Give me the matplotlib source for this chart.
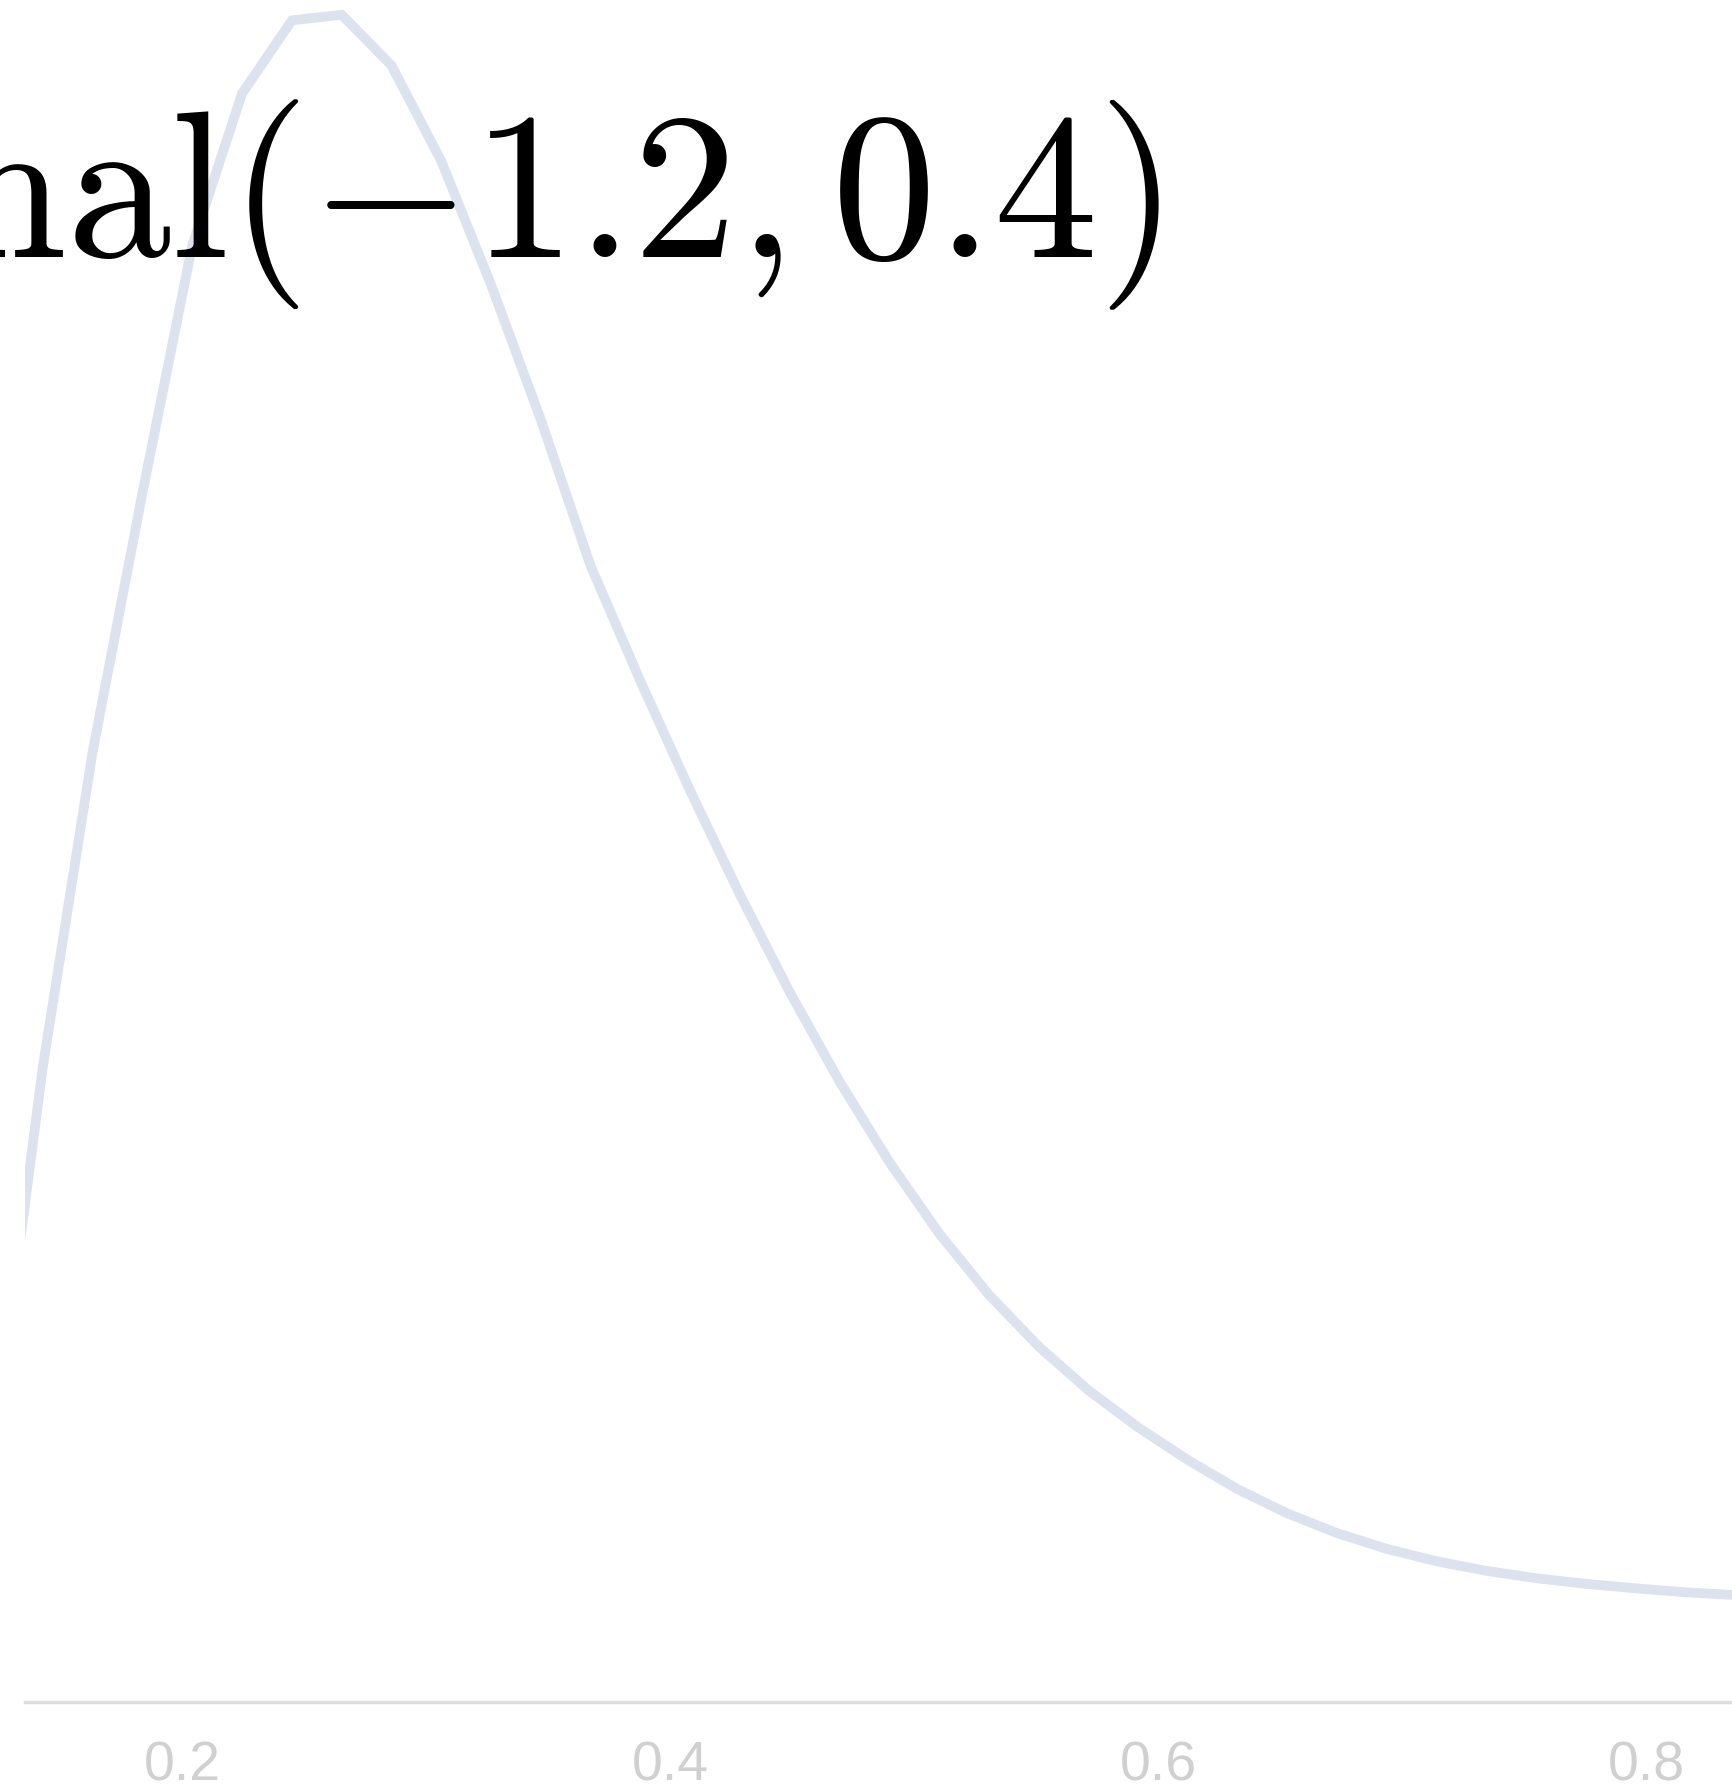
import matplotlib
matplotlib.use("Agg")
import matplotlib.pyplot as plt

plt.rcParams["mathtext.fontset"] = "cm"

# curve sampled on a 50-point grid over [0, 1]; only the visible part (i = 6..41)
grid_index = list(range(6, 42))
density = [
    0.45, 1.13, 1.69, 2.15, 2.59, 2.86, 2.99, 3.00, 2.91, 2.74,
    2.52, 2.28, 2.02, 1.815, 1.62, 1.435, 1.262, 1.103, 0.96, 0.833,
    0.724, 0.632, 0.554, 0.488, 0.43, 0.378, 0.335, 0.30, 0.272, 0.25,
    0.233, 0.22, 0.21, 0.202, 0.195, 0.19,
]
x_ticks = [0.2, 0.4, 0.6, 0.8]
tick_labels = ["0.2", "0.4", "0.6", "0.8"]
title = r"$\mathrm{LogitNormal}(-1.2, 0.4)$"

W, H = 1732, 1790
fig = plt.figure(figsize=(W / 100, H / 100), dpi=100)
ax = fig.add_axes([25 / W, 1 - 1703 / H, 1 - 25 / W, 1703 / H])

xs = [i / 49 for i in grid_index]
ax.plot(xs, density, color="#dce2ee", linewidth=7, solid_joinstyle="miter", zorder=2)

ax.set_xlim(0.2 - 157.3 / 2440, 0.2 + 1549.7 / 2440)
ax.set_ylim(0, 3.028)

for side in ("left", "right", "top"):
    ax.spines[side].set_visible(False)
ax.spines["bottom"].set_color("#dedede")
ax.spines["bottom"].set_linewidth(2.5)
ax.set_yticks([])
ax.set_xticks(x_ticks)
ax.set_xticklabels(tick_labels, fontsize=40, color="#d0d0d0", family="Liberation Sans")
ax.tick_params(axis="x", length=0, pad=27)

fig.text(1160 / W, 1 - 257 / H, title, fontsize=150, ha="right", va="baseline",
         color="black", zorder=5)

fig.savefig("out.png", dpi=100, facecolor="white")
